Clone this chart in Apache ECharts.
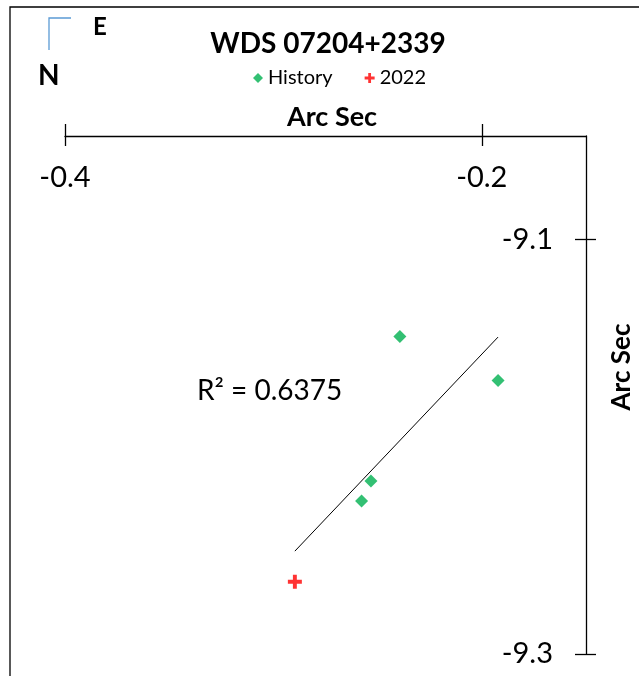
<!DOCTYPE html>
<html>
<head>
<meta charset="utf-8">
<script src="https://cdn.jsdelivr.net/npm/echarts@6/dist/echarts.min.js"></script>
<style>html,body{margin:0;padding:0;background:#fff}#c{width:639px;height:676px}</style>
</head>
<body>
<div id="c"></div>
<script>
const chartTitle = 'WDS 07204+2339';
const axisName = 'Arc Sec';
const xTickValues = [-0.4, -0.2];
const yTickValues = [-9.3, -9.1];
const historyX = [-0.2393, -0.1922, -0.2532, -0.2577];
const historyY = [-9.1468, -9.1680, -9.2165, -9.2261];
const recentX = [-0.2897];
const recentY = [-9.2651];
const r2Text = 'R² = 0.6375';

const allX = historyX.concat(recentX);
const allY = historyY.concat(recentY);
const n = allX.length;
const mx = allX.reduce((a,b)=>a+b,0)/n, my = allY.reduce((a,b)=>a+b,0)/n;
let sxy=0, sxx=0;
for (let i=0;i<n;i++){ sxy+=(allX[i]-mx)*(allY[i]-my); sxx+=(allX[i]-mx)*(allX[i]-mx); }
const slope = sxy/sxx, icpt = my - slope*mx;
const x0 = Math.min(...allX), x1 = Math.max(...allX);
const trend = [[x0, icpt+slope*x0],[x1, icpt+slope*x1]];

const FONT = 'Lato';
const crossPath = 'path://M3.6,0H6.4V3.6H10V6.4H6.4V10H3.6V6.4H0V3.6H3.6Z';
const axisLineStyle = {color:'#000', width:1.3};

const chart = echarts.init(document.getElementById('c'));
chart.setOption({
  animation:false,
  grid:{left:65, right:53, top:136, bottom:22, containLabel:false},
  xAxis:[{
    type:'value', position:'top', min:-0.4, max:-0.15,
    axisLine:{show:true, lineStyle:axisLineStyle},
    axisTick:{show:true, length:12, lineStyle:axisLineStyle, customValues:xTickValues},
    axisLabel:{inside:true, margin:27, fontFamily:FONT, fontSize:29, color:'#000', customValues:xTickValues},
    splitLine:{show:false}
  },{
    type:'value', position:'top', min:-0.4, max:-0.15,
    axisLine:{show:false},
    axisTick:{show:true, inside:true, length:10, lineStyle:axisLineStyle, customValues:xTickValues},
    axisLabel:{show:false}, splitLine:{show:false}
  }],
  yAxis:[{
    type:'value', position:'right', min:-9.3, max:-9.05,
    axisLine:{show:true, lineStyle:axisLineStyle},
    axisTick:{show:true, length:10, lineStyle:axisLineStyle, customValues:yTickValues},
    axisLabel:{inside:true, margin:33, fontFamily:FONT, fontSize:29, color:'#000', customValues:yTickValues},
    splitLine:{show:false}
  },{
    type:'value', position:'right', min:-9.3, max:-9.05,
    axisLine:{show:false},
    axisTick:{show:true, inside:true, length:11, lineStyle:axisLineStyle, customValues:yTickValues},
    axisLabel:{show:false}, splitLine:{show:false}
  }],
  legend:{
    top:63, left:248, itemGap:32, itemWidth:10, itemHeight:10,
    textStyle:{fontFamily:FONT, fontSize:20, color:'#000'},
    data:[{name:'History', icon:'diamond'},{name:'2022', icon:crossPath}]
  },
  graphic:[
    {type:'rect', shape:{x:10, y:7, width:700, height:700}, style:{fill:'none', stroke:'#000', lineWidth:1.3}, silent:true},
    {type:'polyline', shape:{points:[[49,50],[49,18],[71,18]]}, style:{fill:'none', stroke:'#5B9BD5', lineWidth:1.3}},
    {type:'text', left:93, top:15, style:{text:'E', font:'bold 24px Lato', fill:'#000'}},
    {type:'text', left:38, top:62, style:{text:'N', font:'bold 28px Lato', fill:'#000'}},
    {type:'text', x:328, y:44, style:{text:chartTitle, font:'bold 28px Lato', fill:'#000', align:'center', verticalAlign:'middle'}},
    {type:'text', x:332, y:117, style:{text:axisName, font:'bold 27px Lato', fill:'#000', align:'center', verticalAlign:'middle'}},
    {type:'text', x:622, y:367, rotation:Math.PI/2, style:{text:axisName, font:'bold 26px Lato', fill:'#000', align:'center', verticalAlign:'middle'}},
    {type:'text', x:197, y:391, style:{text:r2Text, font:'28px Lato', fill:'#000', align:'left', verticalAlign:'middle'}}
  ],
  series:[
    {name:'trend', type:'line', data:trend, symbol:'none', lineStyle:{color:'#000', width:1}, silent:true, z:1},
    {name:'History', type:'scatter', symbol:'diamond', symbolSize:13, itemStyle:{color:'#00B050'},
     data:historyX.map((x,i)=>[x,historyY[i]]), z:3},
    {name:'2022', type:'scatter', symbol:crossPath, symbolSize:14, itemStyle:{color:'#FF0000'},
     data:recentX.map((x,i)=>[x,recentY[i]]), z:3}
  ]
});
</script>
</body>
</html>
